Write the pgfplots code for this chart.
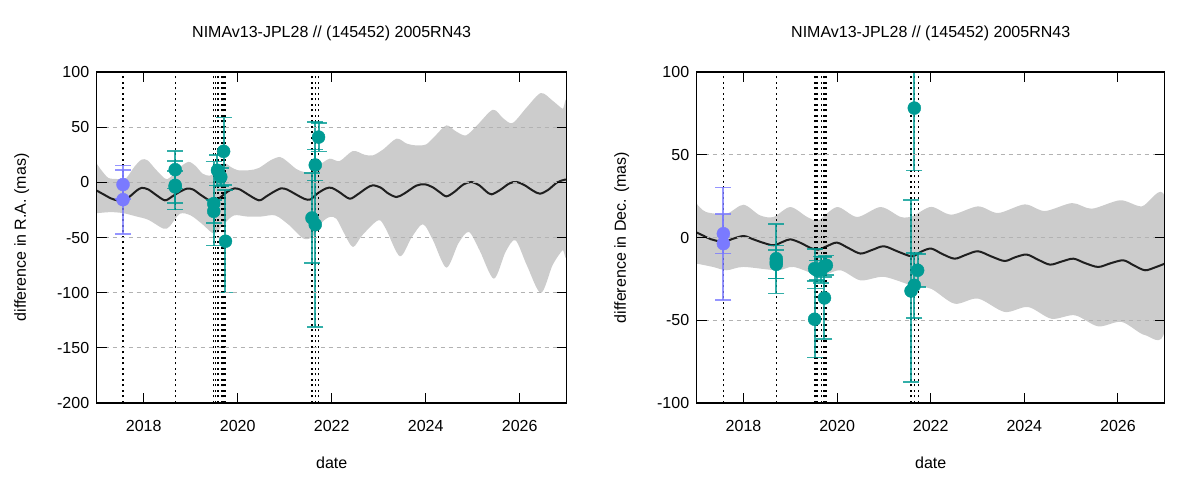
\documentclass[border=0pt]{standalone}
\usepackage{fontspec}
\setmainfont{Liberation Sans}
\usepackage{pgfplots}
\usepackage{pgfplotstable}
\pgfplotsset{compat=1.18}

\definecolor{obsteal}{RGB}{0,155,148}
\definecolor{obsblue}{RGB}{122,122,255}
\definecolor{bandgray}{RGB}{204,204,204}

% ---------- R.A. panel ----------
\pgfplotstableread{
x y
2017.00 -7.5
2017.15 -11
2017.30 -14.5
2017.45 -16.5
2017.57 -16.5
2017.70 -13
2017.85 -7.5
2017.96 -5
2018.10 -6.5
2018.25 -11
2018.45 -16.3
2018.60 -13
2018.75 -9
2018.92 -5.7
2019.05 -6.5
2019.20 -11
2019.40 -16.5
2019.50 -17.5
2019.65 -13
2019.80 -8
2019.93 -5.5
2020.05 -6.5
2020.20 -10.5
2020.45 -16.3
2020.60 -13
2020.75 -9
2020.92 -5.5
2021.05 -6.5
2021.20 -10
2021.42 -15
2021.55 -15.5
2021.70 -10
2021.88 -5.5
2022.00 -5
2022.15 -8.5
2022.38 -14.8
2022.55 -11
2022.75 -5
2022.88 -2.7
2023.05 -5
2023.20 -10
2023.38 -13.3
2023.55 -10
2023.80 -3
2023.98 -1.8
2024.15 -4.5
2024.30 -9
2024.44 -12.7
2024.60 -9
2024.80 -2
2024.97 0.3
2025.15 -3
2025.28 -8
2025.40 -10.9
2025.58 -7
2025.78 -1
2025.93 0.3
2026.10 -2.5
2026.28 -7.5
2026.43 -10.3
2026.60 -7
2026.80 0
2026.96 2.4
2027.00 2.5
}\raline

% uncertainty envelope: upper edge forward in time, lower edge backward
\pgfplotstableread{
x y
2017.00 17
2017.10 11
2017.25 4
2017.45 3
2017.62 3.5
2017.80 14
2017.95 20.5
2018.08 20
2018.25 12
2018.45 3.5
2018.55 4
2018.75 13
2018.95 18.5
2019.10 15
2019.25 8
2019.40 6
2019.55 9
2019.72 17
2019.85 14
2020.00 11
2020.25 11
2020.45 13
2020.70 20
2020.90 23
2021.05 19
2021.25 12
2021.40 9.5
2021.55 9
2021.75 16
2021.96 21.4
2022.17 19.3
2022.45 28.4
2022.70 25
2022.88 24.5
2023.10 30
2023.38 39.6
2023.60 35
2023.80 33.5
2024.01 34.4
2024.20 42
2024.44 51.6
2024.65 46
2024.86 42.6
2025.10 52
2025.43 65.8
2025.65 58
2025.85 53.8
2026.15 68
2026.45 80.9
2026.70 74
2026.91 66.7
2027.00 67.6
2027.00 -61
2026.91 -61.6
2026.70 -75
2026.45 -100.3
2026.15 -75
2025.91 -52.5
2025.70 -63
2025.45 -87.3
2025.15 -62
2024.92 -45
2024.70 -55
2024.44 -77.3
2024.15 -52
2023.94 -38
2023.70 -50
2023.45 -67
2023.15 -42
2022.99 -34.4
2022.65 -48
2022.45 -58.6
2022.25 -45
2022.10 -33
2021.96 -31.4
2021.80 -36
2021.60 -49
2021.40 -51
2021.10 -39
2020.80 -30
2020.50 -31
2020.20 -31
2019.92 -30
2019.70 -38
2019.50 -46.5
2019.25 -38
2019.00 -30
2018.77 -28.5
2018.55 -40
2018.42 -42
2018.10 -34
2017.85 -31
2017.57 -28
2017.30 -27
2017.00 -28
}\raband

\pgfplotstableread{
x y e
2018.67 11.5 17
2018.67 -2.7 22
2018.67 -4.2 14.5
2019.49 -19.3 38
2019.49 -26.3 10.5
2019.57 10.9 13.6
2019.64 4.8 8
2019.70 28.1 30.5
2019.74 -53.4 46.6
2021.58 -32.3 41
2021.65 -38.3 93
2021.65 15.7 14
2021.72 41 13
}\raobs

\pgfplotstableread{
x y e
2017.56 -2 13
2017.56 -15.7 31
}\raobsb

% ---------- Dec. panel ----------
\pgfplotstableread{
x y
2017.00 3
2017.15 1
2017.30 -1
2017.57 -2.7
2017.75 -1
2018.00 0.9
2018.20 -1
2018.40 -3
2018.64 -4.7
2018.85 -2.5
2019.00 -1.1
2019.20 -3
2019.45 -6.5
2019.60 -7.3
2019.80 -5
2020.00 -3.1
2020.25 -6.5
2020.50 -9.7
2020.75 -7.5
2021.00 -5.3
2021.30 -8.5
2021.60 -11.4
2021.80 -8.5
2022.01 -6.7
2022.25 -10
2022.51 -12.8
2022.75 -10.5
2023.01 -8.3
2023.30 -11.5
2023.58 -14.2
2023.80 -12
2024.05 -10.3
2024.30 -13.5
2024.55 -16.4
2024.80 -14.5
2025.05 -12.8
2025.30 -15.5
2025.58 -17.8
2025.85 -15.5
2026.12 -13.8
2026.35 -17
2026.58 -19.8
2026.80 -18
2027.00 -15.8
}\deline

\pgfplotstableread{
x y
2017.00 20.4
2017.20 15.4
2017.64 14.4
2018.00 19.8
2018.35 13.4
2018.64 12.4
2019.00 18.4
2019.36 12.4
2019.60 10.4
2020.00 18.4
2020.43 12.4
2020.93 18.4
2021.36 12.4
2021.62 13
2022.01 18.5
2022.44 13.8
2023.01 18.8
2023.44 14.8
2024.01 20.0
2024.44 16.0
2025.02 20.8
2025.44 17.4
2026.05 22.5
2026.51 18.8
2027.00 24.1
2027.00 -55.7
2026.58 -59
2026.08 -51
2025.58 -53.7
2025.08 -47
2024.58 -49.1
2024.08 -42
2023.58 -45
2023.01 -36.9
2022.51 -40
2022.01 -31
2021.60 -29.0
2021.00 -23.8
2020.50 -25.9
2020.07 -19.8
2019.64 -22.9
2019.07 -17.8
2018.72 -19.8
2018.00 -17.8
2017.64 -19.8
2017.35 -17.8
2017.00 -15.8
}\deband

\pgfplotstableread{
x y e
2018.70 -12.8 21
2018.70 -14.8 10
2018.70 -16.2 8.6
2019.52 -49.4 23
2019.52 -18.8 12
2019.57 -19.8 6
2019.66 -19.4 8
2019.71 -17.8 6
2019.77 -16.8 6
2019.73 -36.5 25
2021.65 78.2 37.6
2021.72 -19.8 10
2021.65 -28.9 19.7
2021.58 -32.3 55
}\deobs

\pgfplotstableread{
x y e
2017.57 2.3 12
2017.57 -3.7 34
}\deobsb

\pgfplotsset{
  residual/.style={
    scale only axis,
    width=468bp, height=331bp,
    xmin=2017, xmax=2027,
    xtick={2018,2020,2022,2024,2026},
    /pgf/number format/1000 sep={},
    /pgf/number format/assume math mode=true,
    tick align=inside,
    major tick length=10bp,
    tick style={black, line width=1bp},
    axis line style={black, line width=1.3bp},
    ymajorgrids,
    grid style={black!30, dash pattern=on 4bp off 4bp, line width=0.8bp},
    axis on top,
    title style={at={(axis description cs:0.5,1.0876)}, anchor=base},
    xlabel style={at={(axis description cs:0.5,-0.1964)}, anchor=base},
    ylabel style={at={(axis description cs:-0.1603,0.5)}, anchor=center},
    xticklabel style={yshift=-14bp},
    yticklabel style={xshift=-4bp},
    xlabel={date},
    title={NIMAv13-JPL28 // (145452) 2005RN43},
  },
  obs/.style={
    only marks, mark=*, mark size=6.5bp, color=#1,
    mark options={draw=#1, fill=#1},
    error bars/.cd, y dir=both, y explicit,
    error mark=-,
    error bar style={line width=2bp, color=#1, opacity=0.8},
    error mark options={rotate=90, line width=1.6bp, mark size=8bp, color=#1, opacity=0.8},
  },
  obsline/.style={black, line width=1.3bp, dash pattern=on 2bp off 3.5bp},
  meanline/.style={black!88, line width=2bp, smooth},
  envelope/.style={fill=bandgray, draw=none, smooth},
}

\begin{document}
\begin{tikzpicture}[font=\fontsize{16bp}{19bp}\selectfont]
\path[use as bounding box] (0,0) rectangle (1200bp,480bp);

% left: right ascension
\begin{axis}[residual, at={(96.7bp,77bp)}, anchor=south west,
  width=470bp,
  ymin=-200, ymax=100, ytick={-200,-150,...,100},
  ylabel={difference in R.A. (mas)},
  ylabel style={at={(axis description cs:-0.1596,0.5)}}]
  \addplot[envelope] table {\raband};
  \addplot[meanline] table {\raline};
  \pgfplotsinvokeforeach{2017.56,2018.67,2019.49,2019.53,2019.58,2019.65,2019.68,2019.71,2019.74,2021.58,2021.65,2021.72}{
    \addplot[obsline] coordinates {(#1,-200) (#1,100)};
  }
  \addplot[obs=obsblue] table[x=x, y=y, y error=e] {\raobsb};
  \addplot[obs=obsteal] table[x=x, y=y, y error=e] {\raobs};
\end{axis}

% right: declination
\begin{axis}[residual, at={(696.7bp,77bp)}, anchor=south west,
  ymin=-100, ymax=100, ytick={-100,-50,...,100},
  ylabel={difference in Dec. (mas)}]
  \addplot[envelope] table {\deband};
  \addplot[meanline] table {\deline};
  \pgfplotsinvokeforeach{2017.57,2018.70,2019.52,2019.55,2019.58,2019.66,2019.71,2019.74,2019.77,2021.58,2021.66,2021.74}{
    \addplot[obsline] coordinates {(#1,-100) (#1,100)};
  }
  \addplot[obs=obsblue] table[x=x, y=y, y error=e] {\deobsb};
  \addplot[obs=obsteal] table[x=x, y=y, y error=e] {\deobs};
\end{axis}
\end{tikzpicture}
\end{document}
